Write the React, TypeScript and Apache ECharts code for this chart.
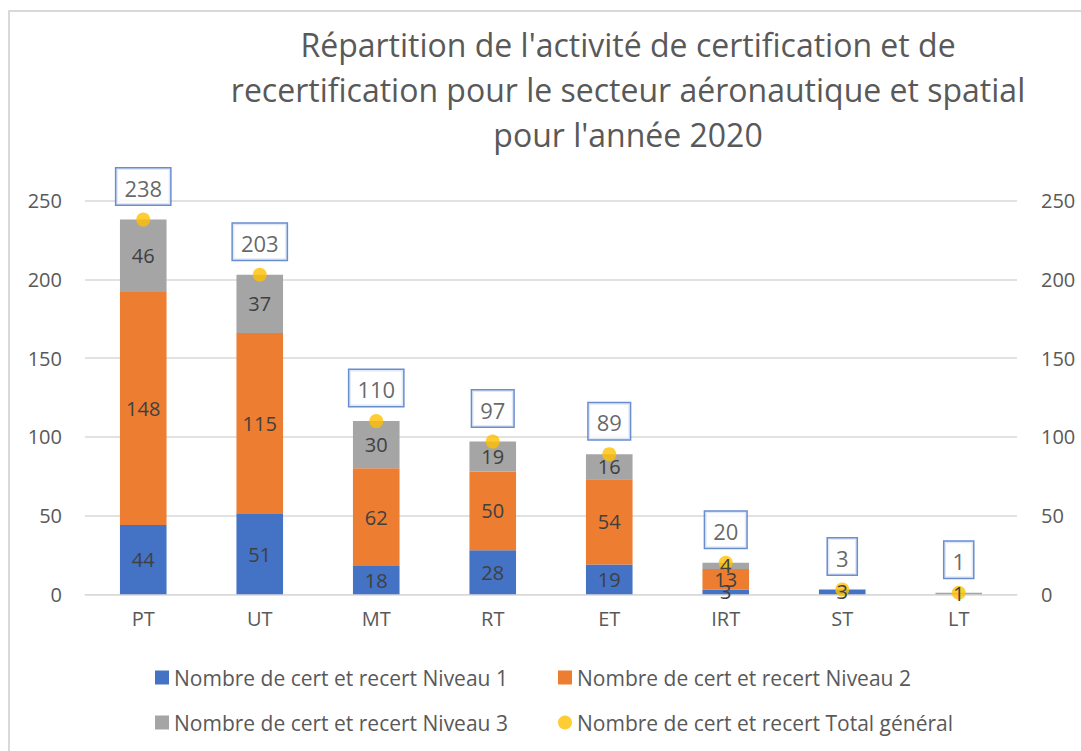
import React, { useEffect, useRef } from "react";
import * as echarts from "echarts";

const categories = ["PT", "UT", "MT", "RT", "ET", "IRT", "ST", "LT"];
const niveau1 = [44, 51, 18, 28, 19, 3, 3, 0];
const niveau2 = [148, 115, 62, 50, 54, 13, 0, 0];
const niveau3 = [46, 37, 30, 19, 16, 4, 0, 1];
const totals = [238, 203, 110, 97, 89, 20, 3, 1];
const seriesNames = [
  "Nombre de cert et recert Niveau 1",
  "Nombre de cert et recert Niveau 2",
  "Nombre de cert et recert Niveau 3",
  "Nombre de cert et recert Total général",
];
const titleText =
  "Répartition de l'activité de certification et de\nrecertification pour le secteur aéronautique et spatial\npour l'année 2020";

const FONT = "'Open Sans', 'Noto Sans', sans-serif";
const TXT = "#404040";
const AX = "#595959";
const COLORS = ["#4472C4", "#ED7D31", "#A5A5A5"];

export default function App() {
  const ref = useRef<HTMLDivElement>(null);
  useEffect(() => {
    document.body.style.margin = "0";
    const chart = echarts.init(ref.current!, null, { renderer: "svg" });
    const barLabel = {
      show: true,
      position: "inside",
      color: TXT,
      fontSize: 20,
      fontFamily: FONT,
      formatter: (p: any) => (p.value ? String(p.value) : ""),
    };
    const legendBase = {
      icon: "rect",
      itemWidth: 14,
      itemHeight: 14,
      padding: 0,
      textStyle: { color: AX, fontSize: 21, fontFamily: FONT },
    };
    const levels = [niveau1, niveau2, niveau3];
    const barSeries = levels.map((d, i) => ({
      name: seriesNames[i],
      type: "bar",
      stack: "a",
      barWidth: "40%",
      barGap: "-100%",
      data: d,
      itemStyle: { color: COLORS[i] },
      z: 2,
    }));
    const labelSeries = levels.map((d, i) => ({
      name: "label" + i,
      type: "bar",
      stack: "b",
      barWidth: "40%",
      barGap: "-100%",
      data: d,
      itemStyle: { color: "rgba(0,0,0,0)" },
      label: barLabel,
      z: 10,
      silent: true,
    }));
    chart.setOption({
      animation: false,
      textStyle: { fontFamily: FONT },
      graphic: [
        {
          type: "rect",
          shape: { x: 9, y: 11, width: 1300, height: 1000 },
          style: { fill: "none", stroke: "#D9D9D9", lineWidth: 2 },
          silent: true,
        },
        {
          type: "text",
          x: 628,
          y: 22,
          style: {
            text: titleText,
            textAlign: "center",
            textVerticalAlign: "top",
            fontSize: 32,
            lineHeight: 45,
            fill: AX,
            fontFamily: FONT,
          },
        },
      ],
      legend: [
        { ...legendBase, data: [seriesNames[0]], left: 155, top: 667 },
        { ...legendBase, data: [seriesNames[1]], left: 558, top: 667 },
        { ...legendBase, data: [seriesNames[2]], left: 155, top: 712 },
        { ...legendBase, data: [{ name: seriesNames[3], icon: "circle" }], left: 558, top: 712 },
      ],
      grid: { left: 85, right: 64, top: 200.7, bottom: 156.7, containLabel: false },
      xAxis: {
        type: "category",
        data: categories,
        axisLine: { lineStyle: { color: "#D9D9D9" } },
        axisTick: { show: false },
        axisLabel: { color: AX, fontSize: 20, margin: 14, fontFamily: FONT },
      },
      yAxis: [
        {
          type: "value",
          min: 0,
          max: 250,
          interval: 50,
          axisLine: { show: false },
          axisTick: { show: false },
          splitLine: { lineStyle: { color: "#D9D9D9", width: 1.5 } },
          axisLabel: { color: AX, fontSize: 20, margin: 23, fontFamily: FONT },
        },
        {
          type: "value",
          min: 0,
          max: 250,
          interval: 50,
          position: "right",
          axisLine: { show: false },
          axisTick: { show: false },
          splitLine: { show: false },
          axisLabel: { color: AX, fontSize: 20, margin: 24, fontFamily: FONT },
        },
      ],
      series: [
        ...barSeries,
        {
          name: seriesNames[3],
          type: "scatter",
          yAxisIndex: 1,
          symbolSize: 14,
          data: totals,
          itemStyle: { color: "#FFC000" },
          z: 5,
          label: {
            show: true,
            position: "top",
            distance: 8,
            color: TXT,
            fontSize: 22,
            fontFamily: FONT,
            backgroundColor: "#FFFFFF",
            borderColor: "#4472C4",
            borderWidth: 1.5,
            padding: [8, 8, 6, 8],
          },
        },
        ...labelSeries,
      ],
    });
    return () => chart.dispose();
  }, []);
  return <div ref={ref} style={{ width: 1081, height: 751 }} />;
}
